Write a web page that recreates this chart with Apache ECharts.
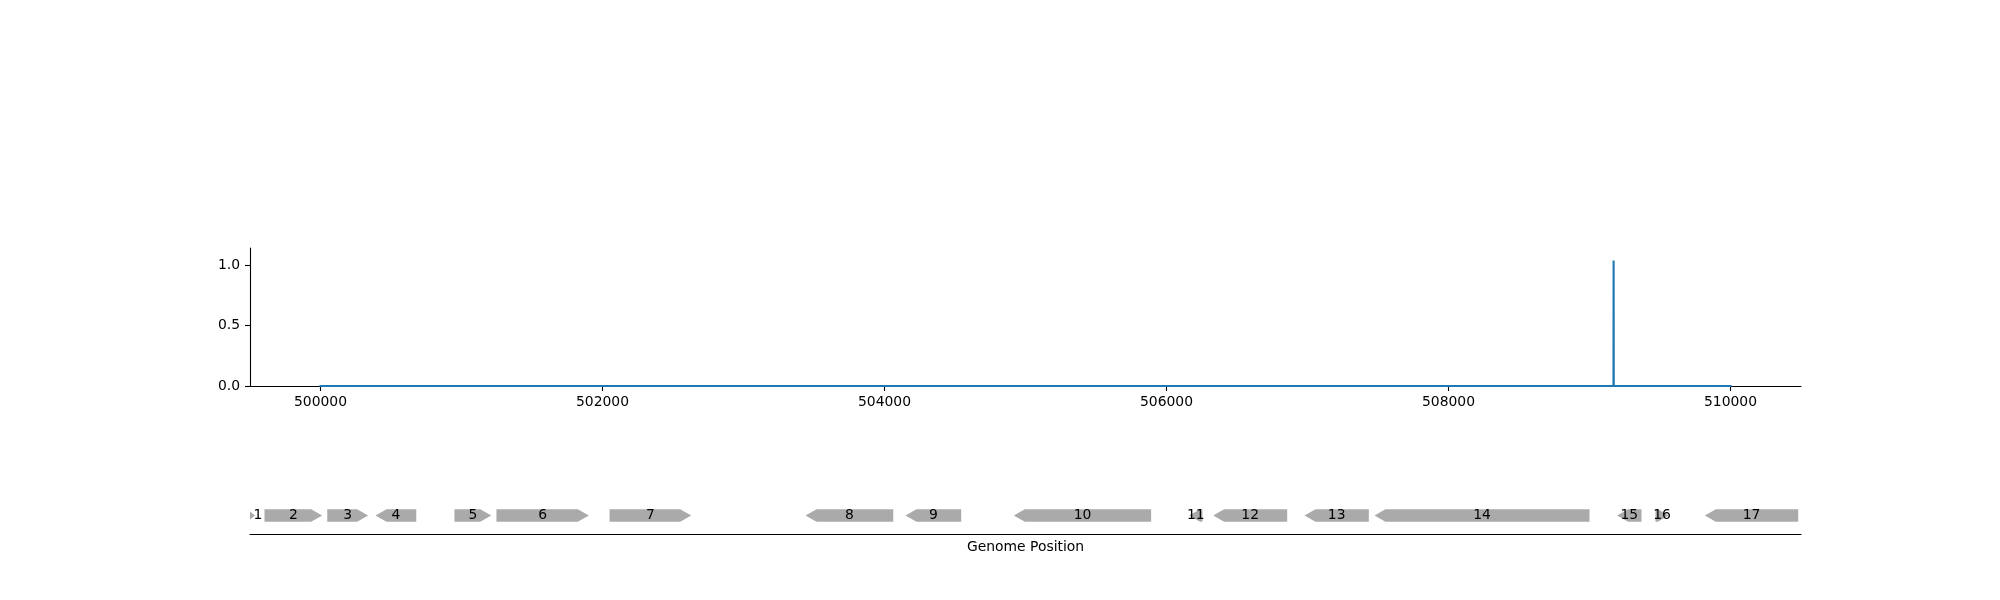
<!DOCTYPE html>
<html>
<head>
<meta charset="utf-8">
<script src="https://cdn.jsdelivr.net/npm/echarts@6/dist/echarts.min.js"></script>
<style>
html,body{margin:0;padding:0;background:#fff;}
#chart{width:2000px;height:600px;}
</style>
</head>
<body>
<div id="chart"></div>
<script>
// ---- Data ----
const signalPositions = [500000, 509170, 509171, 509172, 510000];
const signalValues    = [0,      0,      1.04,   0,      0];

const xTickValues = [500000, 502000, 504000, 506000, 508000, 510000];
const yTickValues = [0, 0.5, 1.0];

const geneLabels  = ['1','2','3','4','5','6','7','8','9','10','11','12','13','14','15','16','17'];
const geneStarts  = [499480, 499603, 500048, 500390, 500950, 501248, 502050, 503440, 504149, 504917, 506160, 506331, 506979, 507475, 509196, 509468, 509818];
const geneEnds    = [499535, 500012, 500338, 500679, 501211, 501903, 502629, 504062, 504544, 505891, 506255, 506856, 507435, 509000, 509369, 509562, 510480];
const geneStrands = [1, 1, 1, -1, 1, 1, 1, -1, -1, -1, -1, -1, -1, -1, -1, 1, -1];

const X_MIN = 499500, X_MAX = 510500;
const Y_MAX = 1.144;

// ---- Build ----
const FONT = 'DejaVu Sans';
const FS = 13.9;
const signalData = signalPositions.map((p, i) => [p, signalValues[i]]);
const geneData = geneStarts.map((s, i) => [s, geneEnds[i], geneStrands[i]]);

const chart = echarts.init(document.getElementById('chart'), null, {renderer: 'canvas'});

const option = {
  backgroundColor: '#ffffff',
  animation: false,
  grid: [
    {left: 250, right: 199, top: 248, height: 138, containLabel: false},
    {left: 250, right: 199, top: 497, height: 37, containLabel: false}
  ],
  xAxis: [
    {
      type: 'value', gridIndex: 0, min: X_MIN, max: X_MAX,
      splitLine: {show: false},
      axisLine: {show: true, onZero: false, lineStyle: {color: '#000', width: 1.1}},
      axisTick: {show: true, inside: false, length: 5, lineStyle: {color: '#000', width: 1.1}, customValues: xTickValues},
      axisLabel: {show: true, margin: 9, color: '#000', fontFamily: FONT, fontSize: FS, customValues: xTickValues,
                  formatter: v => String(Math.round(v))}
    },
    {
      type: 'value', gridIndex: 1, min: X_MIN, max: X_MAX,
      splitLine: {show: false},
      axisLine: {show: true, onZero: false, lineStyle: {color: '#000', width: 1.1}},
      axisTick: {show: false},
      axisLabel: {show: false},
      name: 'Genome Position', nameLocation: 'middle', nameGap: 6,
      nameTextStyle: {color: '#000', fontFamily: FONT, fontSize: FS}
    }
  ],
  yAxis: [
    {
      type: 'value', gridIndex: 0, min: 0, max: Y_MAX,
      splitLine: {show: false},
      axisLine: {show: true, onZero: false, lineStyle: {color: '#000', width: 1.1}},
      axisTick: {show: true, inside: false, length: 5, lineStyle: {color: '#000', width: 1.1}, customValues: yTickValues},
      axisLabel: {show: true, margin: 10, color: '#000', fontFamily: FONT, fontSize: FS, customValues: yTickValues,
                  formatter: v => v.toFixed(1)}
    },
    {
      type: 'value', gridIndex: 1, min: 0, max: 1,
      show: false
    }
  ],
  series: [
    {
      type: 'line', xAxisIndex: 0, yAxisIndex: 0,
      data: signalData,
      showSymbol: false, symbol: 'none',
      lineStyle: {color: '#1f77b4', width: 2.1, cap: 'square', join: 'miter'},
      clip: true, z: 3
    },
    {
      type: 'custom', xAxisIndex: 1, yAxisIndex: 1,
      data: geneData,
      clip: true,
      renderItem: function (params, api) {
        const s = api.value(0), e = api.value(1), strand = api.value(2);
        const p0 = api.coord([s, 0.5]);
        const p1 = api.coord([e, 0.5]);
        const x0 = p0[0], x1 = p1[0], cy = p0[1];
        const h = 6.2, head = 11;
        const w = x1 - x0;
        const hd = Math.min(head, w);
        let pts;
        if (strand > 0) {
          pts = [[x0, cy - h], [x1 - hd, cy - h], [x1, cy], [x1 - hd, cy + h], [x0, cy + h]];
        } else {
          pts = [[x1, cy - h], [x0 + hd, cy - h], [x0, cy], [x0 + hd, cy + h], [x1, cy + h]];
        }
        const cs = params.coordSys;
        const vx0 = Math.max(x0, cs.x), vx1 = Math.min(x1, cs.x + cs.width);
        let lx = (vx0 + vx1) / 2;
        if (vx1 - vx0 < 8) lx = vx1 + 3;
        return {
          type: 'group',
          children: [
            {type: 'polygon', shape: {points: pts}, style: {fill: '#aaaaaa', stroke: null}},
            {type: 'text', x: lx, y: cy, z2: 10,
             style: {text: geneLabels[params.dataIndex], fill: '#000', font: FS + 'px "' + FONT + '"',
                     align: 'center', verticalAlign: 'middle'}}
          ]
        };
      }
    }
  ]
};
chart.setOption(option);
</script>
</body>
</html>
